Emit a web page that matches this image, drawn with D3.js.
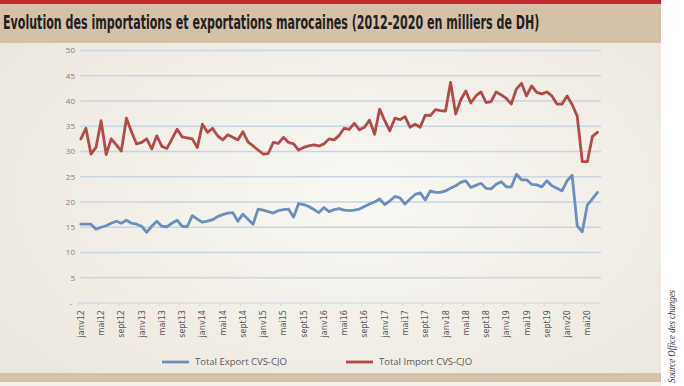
<!DOCTYPE html>
<html><head><meta charset="utf-8">
<script src="https://cdn.jsdelivr.net/npm/d3@7"></script>
<style>html,body{margin:0;padding:0;background:#fff;}svg{display:block;}</style>
</head><body>
<svg id="chart" width="684" height="386"></svg>
<script>
const title = "Evolution des importations et exportations marocaines (2012-2020 en milliers de DH)";
const source = "Source Office des changes";
const monthNames = ["janv","févr","mars","avr","mai","juin","juil","août","sept","oct","nov","déc"];
const yTicks = [0,5,10,15,20,25,30,35,40,45,50];
const seriesNames = ["Total Export CVS-CJO","Total Import CVS-CJO"];
const exportValues = [15.6,15.6,15.6,14.6,15.0,15.3,15.8,16.2,15.8,16.4,15.8,15.6,15.2,14.0,15.2,16.2,15.2,15.1,15.8,16.4,15.2,15.1,17.3,16.6,16.0,16.2,16.5,17.1,17.5,17.8,17.9,16.2,17.6,16.6,15.6,18.6,18.4,18.1,17.8,18.3,18.5,18.6,17.0,19.7,19.5,19.1,18.5,17.9,18.9,18.1,18.5,18.7,18.4,18.3,18.4,18.6,19.1,19.6,20.0,20.6,19.5,20.2,21.1,20.8,19.6,20.6,21.5,21.8,20.4,22.2,21.9,21.9,22.2,22.7,23.2,23.9,24.2,22.9,23.3,23.7,22.7,22.6,23.5,24.0,23.0,23.0,25.5,24.4,24.4,23.5,23.4,23.0,24.2,23.2,22.7,22.2,24.2,25.3,15.3,14.1,19.4,20.6,21.9];
const importValues = [32.5,34.6,29.5,30.8,36.1,29.4,32.5,31.3,30.1,36.6,33.9,31.5,31.8,32.5,30.5,33.1,31.0,30.6,32.5,34.4,32.9,32.7,32.5,30.8,35.4,33.8,34.6,33.1,32.3,33.3,32.8,32.3,33.9,31.9,31.1,30.3,29.5,29.6,31.8,31.6,32.8,31.8,31.5,30.3,30.8,31.1,31.3,31.1,31.5,32.5,32.3,33.2,34.6,34.4,35.6,34.3,34.8,36.2,33.4,38.4,36.1,34.1,36.6,36.3,36.9,34.8,35.4,34.8,37.2,37.1,38.3,38.1,38.0,43.7,37.4,40.2,42.0,39.6,41.0,41.8,39.7,39.9,41.8,41.2,40.5,39.4,42.4,43.5,41.0,43.0,41.7,41.4,41.8,41.0,39.4,39.4,41.0,39.3,37.0,28.0,28.0,33.0,33.8];

const months = exportValues.map((_, i) => monthNames[i % 12] + String(12 + Math.floor(i / 12)));
const labelEvery = 4;

const svg = d3.select("#chart");
const defs = svg.append("defs");
const grad = defs.append("radialGradient").attr("id","bg").attr("cx","55%").attr("cy","50%").attr("r","70%");
grad.append("stop").attr("offset","0%").attr("stop-color","#f8f7f3");
grad.append("stop").attr("offset","100%").attr("stop-color","#ece7de");

// background panels
svg.append("rect").attr("x",0).attr("y",0).attr("width",661).attr("height",386).attr("fill","url(#bg)");
svg.append("rect").attr("x",0).attr("y",0).attr("width",661).attr("height",43).attr("fill","#d4c1aa");
svg.append("rect").attr("x",0).attr("y",0).attr("width",661).attr("height",4).attr("fill","#c1272d");
svg.append("rect").attr("x",0).attr("y",373).attr("width",661).attr("height",9).attr("fill","#d4c1aa");
svg.append("rect").attr("x",0).attr("y",382).attr("width",661).attr("height",4).attr("fill","#f3efe9");

// title, scaled horizontally to the reference width
const tg = svg.append("g");
const tt = tg.append("text").text(title)
  .attr("x",0).attr("y",0)
  .attr("font-family","'Liberation Sans Narrow','DejaVu Sans Condensed',sans-serif")
  .attr("font-weight","bold").attr("font-size",19).attr("fill","#231f20");
const natural = tt.node().getComputedTextLength();
tg.attr("transform",`translate(3,29) scale(${537/natural},1)`);

const x = d3.scaleBand().domain(d3.range(exportValues.length)).range([78.3,600]).paddingInner(0).paddingOuter(0);
const y = d3.scaleLinear().domain([0,50]).range([303,50.5]);

// gridlines
svg.append("g").selectAll("line").data(yTicks.filter(t => t > 0)).join("line")
  .attr("x1",80).attr("x2",601)
  .attr("y1",d => y(d)).attr("y2",d => y(d))
  .attr("stroke","#c9d5e2").attr("stroke-width",1.5);

// y labels
svg.append("g").selectAll("text").data(yTicks).join("text")
  .attr("x",d => d === 0 ? 72 : 75).attr("y",d => y(d)).attr("dy","0.35em")
  .attr("text-anchor","end")
  .attr("font-family","'Open Sans',sans-serif").attr("font-size",8).attr("fill","#808080")
  .text(d => d === 0 ? "-" : d);

// x axis line and ticks
svg.append("line").attr("x1",78.3).attr("x2",600).attr("y1",y(0)).attr("y2",y(0))
  .attr("stroke","#c9d5e2").attr("stroke-width",1.2);
const tickIdx = d3.range(0, exportValues.length, labelEvery);
svg.append("g").selectAll("line").data(tickIdx).join("line")
  .attr("x1",d => x(d)).attr("x2",d => x(d))
  .attr("y1",y(0)).attr("y2",y(0)+3)
  .attr("stroke","#c9d5e2").attr("stroke-width",1);
svg.append("g").selectAll("text").data(tickIdx).join("text")
  .attr("transform",d => `translate(${x(d)+x.bandwidth()/2+3},${y(0)+7}) rotate(-90)`)
  .attr("text-anchor","end")
  .attr("font-family","'Liberation Sans Narrow','DejaVu Sans Condensed',sans-serif")
  .attr("font-size",9).attr("fill","#595959")
  .text(d => months[d]);

// lines
const line = d3.line().x((d,i) => x(i) + x.bandwidth()/2).y(d => y(d));
const colors = ["#6b8ebf","#b34a4a"];
[exportValues, importValues].forEach((vals, k) => {
  svg.append("path").datum(vals).attr("d",line)
    .attr("fill","none").attr("stroke",colors[k]).attr("stroke-width",2.8)
    .attr("stroke-linejoin","round").attr("stroke-linecap","round");
});

// legend
const legX = [162, 346];
seriesNames.forEach((name,k) => {
  svg.append("line").attr("x1",legX[k]).attr("x2",legX[k]+27).attr("y1",362).attr("y2",362)
    .attr("stroke",colors[k]).attr("stroke-width",2.8);
  svg.append("text").attr("x",legX[k]+33).attr("y",362).attr("dy","0.35em")
    .attr("font-family","'Open Sans',sans-serif").attr("font-size",9.5).attr("fill","#595959")
    .text(name);
});

// source
svg.append("text").text(source)
  .attr("transform","translate(675,383) rotate(-90)")
  .attr("font-family","'Liberation Serif',serif").attr("font-style","italic")
  .attr("font-size",10.5).attr("fill","#333")
  .attr("textLength",93).attr("lengthAdjust","spacingAndGlyphs");
</script>
</body></html>
